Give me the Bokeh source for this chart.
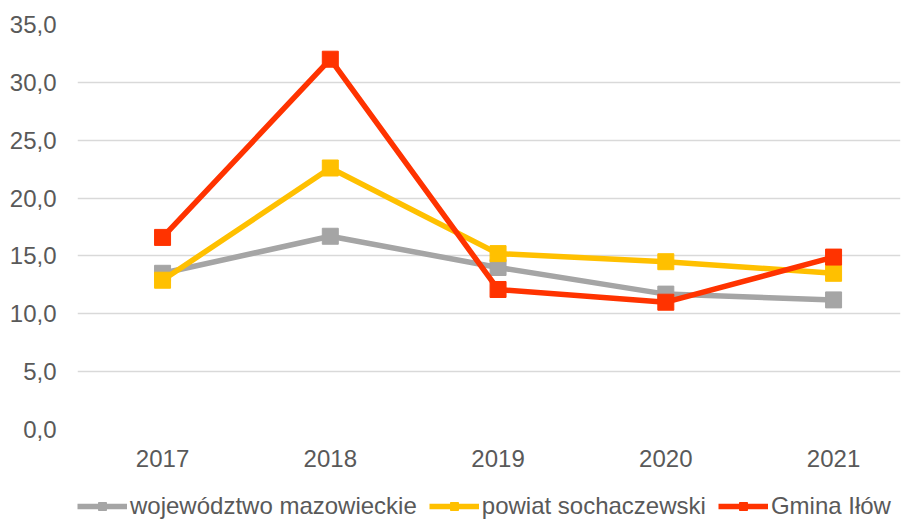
from bokeh.plotting import figure
from bokeh.layouts import column
from bokeh.models import (Range1d, FixedTicker, CustomJSTickFormatter, Legend, LegendItem)
from bokeh.embed import file_html
from bokeh.resources import INLINE

years = [2017, 2018, 2019, 2020, 2021]
mazowieckie = [13.5, 16.7, 14.0, 11.7, 11.2]
sochaczewski = [12.9, 22.6, 15.2, 14.5, 13.5]
ilow = [16.6, 32.0, 12.1, 11.0, 14.9]

names = ["województwo mazowieckie", "powiat sochaczewski", "Gmina Iłów"]
colors = ["#A5A5A5", "#FFC000", "#FF3300"]
series = [mazowieckie, sochaczewski, ilow]
y_ticks = [0, 5, 10, 15, 20, 25, 30, 35]

FONT = "Liberation Sans"
TXT = "#595959"

p = figure(frame_width=823, frame_height=405, output_backend="svg", toolbar_location=None,
           x_range=Range1d(2016.493, 2021.399), y_range=Range1d(0, 35),
           min_border_left=77, min_border_right=1, min_border_top=24,
           min_border_bottom=45)
p.outline_line_color = None
p.background_fill_color = "white"

for name, col, vals in zip(names, colors, series):
    p.line(years, vals, line_color=col, line_width=5.5)
    p.scatter(years, vals, marker="square", size=16, fill_color=col, line_color=col)

p.xgrid.grid_line_color = None
p.ygrid.grid_line_color = "#D9D9D9"
p.ygrid.grid_line_width = 1.5

p.yaxis.ticker = FixedTicker(ticks=y_ticks)
p.yaxis.formatter = CustomJSTickFormatter(code="return tick.toFixed(1).replace('.', ',');")
p.xaxis.ticker = FixedTicker(ticks=years)
p.xaxis.formatter = CustomJSTickFormatter(code="return tick.toFixed(0);")
for ax in (p.xaxis, p.yaxis):
    ax.axis_line_color = None
    ax.major_tick_line_color = None
    ax.minor_tick_line_color = None
    ax.major_label_text_font = FONT
    ax.major_label_text_font_size = "24px"
    ax.major_label_text_color = TXT
p.xaxis.major_label_standoff = 14
p.yaxis.major_label_standoff = 15

# legend strip below the chart (its frame is aligned with the chart's frame)
lg = figure(width=901, height=46, output_backend="svg", toolbar_location=None,
            x_range=Range1d(0, 1), y_range=Range1d(0, 1),
            x_axis_location=None, y_axis_location=None,
            min_border_left=0, min_border_right=0, min_border_top=0, min_border_bottom=0)
lg.grid.visible = False
lg.outline_line_color = None
items = []
for name, col, vals in zip(names, colors, series):
    l = lg.line(years, vals, line_color=col, line_width=5.5)
    s = lg.scatter(years, vals, marker="square", size=16, fill_color=col, line_color=col)
    items.append(LegendItem(label=name, renderers=[l, s]))

legend = Legend(items=items, orientation="horizontal", location=(0, 0),
                label_text_font=FONT, label_text_font_size="24px",
                label_text_color=TXT, glyph_width=50, glyph_height=20,
                label_standoff=3, spacing=12, padding=0, margin=0,
                border_line_color=None, background_fill_alpha=0)
lg.add_layout(legend, "center")

open("out.html", "w").write(file_html(column(p, lg, spacing=0), INLINE))
